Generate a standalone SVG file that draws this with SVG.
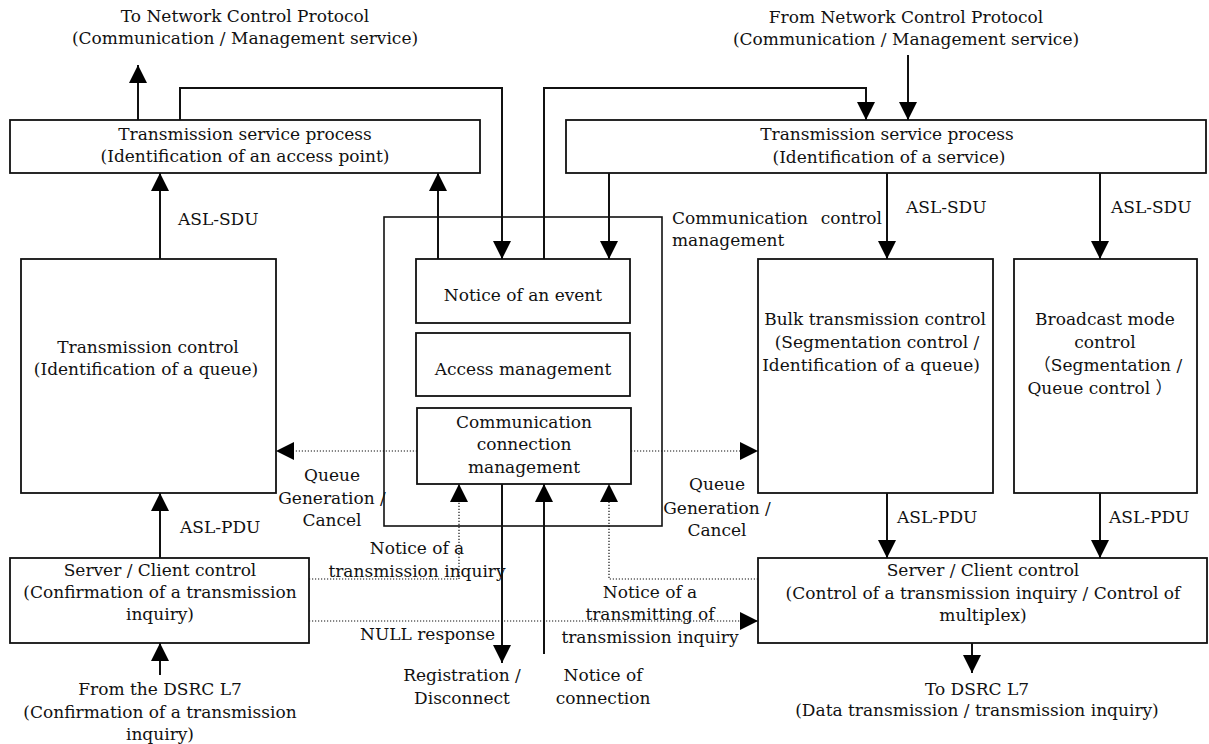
<svg xmlns="http://www.w3.org/2000/svg" width="1209" height="744" viewBox="0 0 1209 744">
  <defs>
    <marker id="ah" viewBox="0 0 18 18" refX="18" refY="9" markerWidth="18" markerHeight="18" markerUnits="userSpaceOnUse" orient="auto">
      <path d="M0,0 L18,9 L0,18 Z" fill="#000"/>
    </marker>
    <style>
      text { font-family: "DejaVu Serif", "Liberation Serif", "Noto Sans CJK JP", serif; font-size: 17px; fill: #111; }
      .c { text-anchor: middle; }
      .e { text-anchor: end; }
      .box { fill: #fff; stroke: #111; stroke-width: 1.8; }
      .frame { fill: none; stroke: #111; stroke-width: 1.6; }
      .ln { fill: none; stroke: #111; stroke-width: 2; marker-end: url(#ah); }
      .plain { fill: none; stroke: #111; stroke-width: 2; }
      .dot { fill: none; stroke: #111; stroke-width: 1.2; stroke-dasharray: 1.2 1.8; marker-end: url(#ah); }
    </style>
  </defs>
  <rect width="1209" height="744" fill="#fff"/>

  <!-- external interface labels -->
  <g id="ext-labels">
    <text class="c" x="245" y="22">To Network Control Protocol</text>
    <text class="c" x="245" y="44">(Communication / Management service)</text>
    <text class="c" x="906" y="23">From Network Control Protocol</text>
    <text class="c" x="906" y="45">(Communication / Management service)</text>
    <text class="c" x="160" y="695">From the DSRC L7</text>
    <text class="c" x="160" y="718">(Confirmation of a transmission</text>
    <text class="c" x="160" y="740">inquiry)</text>
    <text class="c" x="977" y="695">To DSRC L7</text>
    <text class="c" x="977" y="716">(Data transmission / transmission inquiry)</text>
  </g>

  <!-- communication control management frame -->
  <g id="comm-control-mgmt">
    <rect class="frame" x="384" y="217" width="278" height="309"/>
    <text x="672" y="224">Communication<tspan class="e" x="882" text-anchor="end">control</tspan></text>
    <text x="672" y="246">management</text>
  </g>

  <g id="tsp-access-point">
    <rect class="box" x="10" y="120" width="470" height="53"/>
    <text class="c" x="245" y="140">Transmission service process</text>
    <text class="c" x="245" y="162">(Identification of an access point)</text>
  </g>

  <g id="tsp-service">
    <rect class="box" x="566" y="120" width="640" height="53"/>
    <text class="c" x="887" y="140">Transmission service process</text>
    <text class="c" x="889" y="163">(Identification of a service)</text>
  </g>

  <g id="transmission-control">
    <rect class="box" x="21" y="259" width="255" height="234"/>
    <text class="c" x="148" y="353">Transmission control</text>
    <text class="c" x="146" y="375">(Identification of a queue)</text>
  </g>

  <g id="notice-event">
    <rect class="box" x="416" y="259" width="214" height="64"/>
    <text class="c" x="523" y="301">Notice of an event</text>
  </g>

  <g id="access-mgmt">
    <rect class="box" x="416" y="333" width="214" height="63"/>
    <text class="c" x="523" y="375">Access management</text>
  </g>

  <g id="conn-mgmt">
    <rect class="box" x="417" y="408" width="214" height="76"/>
    <text class="c" x="524" y="428">Communication</text>
    <text class="c" x="524" y="450">connection</text>
    <text class="c" x="524" y="473">management</text>
  </g>

  <g id="bulk-control">
    <rect class="box" x="758" y="259" width="235" height="234"/>
    <text class="c" x="875" y="325">Bulk transmission control</text>
    <text class="c" x="877" y="348">(Segmentation control /</text>
    <text class="c" x="871" y="371">Identification of a queue)</text>
  </g>

  <g id="broadcast-control">
    <rect class="box" x="1014" y="259" width="183" height="234"/>
    <text class="c" x="1105" y="325">Broadcast mode</text>
    <text class="c" x="1105" y="348">control</text>
    <text class="c" x="1108" y="371">（Segmentation /</text>
    <text class="c" x="1100" y="394">Queue control ）</text>
  </g>

  <g id="sc-left">
    <rect class="box" x="10" y="558" width="299" height="85"/>
    <text class="c" x="160" y="576">Server / Client control</text>
    <text class="c" x="160" y="598">(Confirmation of a transmission</text>
    <text class="c" x="160" y="620">inquiry)</text>
  </g>

  <g id="sc-right">
    <rect class="box" x="758" y="558" width="449" height="85"/>
    <text class="c" x="983" y="576">Server / Client control</text>
    <text class="c" x="983" y="599">(Control of a transmission inquiry / Control of</text>
    <text class="c" x="983" y="621">multiplex)</text>
  </g>

  <!-- connectors -->
  <g id="connectors">
    <path class="ln" d="M138,120 V65"/>
    <path class="ln" d="M180,120 V88 H502 V259"/>
    <path class="ln" d="M544,259 V88 H866 V120"/>
    <path class="ln" d="M908,55 V120"/>
    <path class="ln" d="M160,259 V173"/>
    <path class="ln" d="M438,259 V173"/>
    <path class="ln" d="M609,173 V259"/>
    <path class="ln" d="M887,173 V259"/>
    <path class="ln" d="M1100,173 V259"/>
    <path class="dot" d="M417,451 H276"/>
    <path class="dot" d="M631,451 H758"/>
    <path class="ln" d="M160,558 V493"/>
    <path class="ln" d="M160,675 V643"/>
    <path class="dot" d="M309,579 H459 V484"/>
    <path class="dot" d="M758,579 H609 V484"/>
    <path class="dot" d="M309,621 H758"/>
    <path class="ln" d="M502,484 V663"/>
    <path class="ln" d="M544,654 V484"/>
    <path class="ln" d="M887,493 V558"/>
    <path class="ln" d="M1100,493 V558"/>
    <path class="ln" d="M972,643 V673"/>
  </g>

  <!-- connector labels -->
  <g id="connector-labels">
    <text x="178" y="225">ASL-SDU</text>
    <text x="906" y="213">ASL-SDU</text>
    <text x="1111" y="213">ASL-SDU</text>
    <text x="180" y="533">ASL-PDU</text>
    <text x="897" y="523">ASL-PDU</text>
    <text x="1109" y="523">ASL-PDU</text>
    <text class="c" x="332" y="481">Queue</text>
    <text class="c" x="332" y="504">Generation /</text>
    <text class="c" x="332" y="526">Cancel</text>
    <text class="c" x="717" y="490">Queue</text>
    <text class="c" x="717" y="514">Generation /</text>
    <text class="c" x="717" y="536">Cancel</text>
    <text class="c" x="417" y="554">Notice of a</text>
    <text class="c" x="417" y="577">transmission inquiry</text>
    <text class="e" x="495" y="640">NULL response</text>
    <text class="c" x="650" y="598">Notice of a</text>
    <text class="c" x="650" y="620">transmitting of</text>
    <text class="c" x="650" y="643">transmission inquiry</text>
    <text class="c" x="462" y="681">Registration /</text>
    <text class="c" x="462" y="704">Disconnect</text>
    <text class="c" x="603" y="681">Notice of</text>
    <text class="c" x="603" y="704">connection</text>
  </g>
</svg>
